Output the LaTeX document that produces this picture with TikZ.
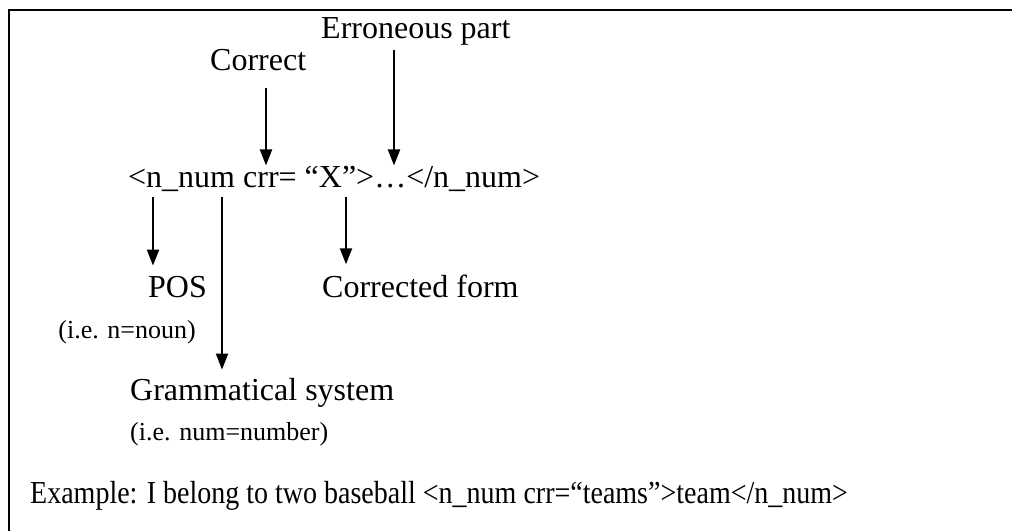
\documentclass[tikz,border=0pt]{standalone}
\usepackage{fontspec}
\setmainfont{Liberation Serif}
\usetikzlibrary{arrows.meta}

\begin{document}
\begin{tikzpicture}[
  x=1pt, y=-1pt,
  lbl/.style={anchor=base west, inner sep=0pt, font=\fontsize{32}{38}\selectfont},
  note/.style={anchor=base west, inner sep=0pt, font=\fontsize{26}{31}\selectfont},
  arr/.style={line width=2pt, -{Triangle[length=16pt,width=12pt]}},
]
\useasboundingbox (0,0) rectangle (1012,531);

\draw [line width=2.5pt] (9,531) -- (9,10) -- (1012,10);

\node [lbl] (err) at (321,38) {Erroneous part};
\node [lbl] (cor) at (210,70) {Correct};
\node [lbl] (tag) at (128,187) {<n\_num crr= “X”>…</n\_num>};

\node [lbl] (pos) at (148,297) {POS};
\node [note, anchor=base east] (posnote) at (196,338) {(i.e. n=noun)};
\node [lbl] (form) at (322,297) {Corrected form};
\node [lbl] (gram) at (130,400) {Grammatical system};
\node [note] (gramnote) at (130,440) {(i.e. num=number)};

\node [lbl] (ex) at (30,503) {\scalebox{0.875}[1]{Example: I belong to two baseball <n\_num crr=“teams”>team</n\_num>}};

\coordinate (errtail) at (394,50);
\coordinate (cortail) at (266,88);
\coordinate (postail) at (153,197);
\coordinate (gramtail) at (222,197);
\coordinate (formtail) at (346,197);

\draw [arr] (errtail) -- (errtail |- tag.north);
\draw [arr] (cortail) -- (cortail |- tag.north);
\draw [arr, shorten >=10pt] (postail) -- (postail |- pos.north);
\draw [arr, shorten >=8pt] (gramtail) -- (gramtail |- gram.north);
\draw [arr, shorten >=10pt] (formtail) -- (formtail |- form.north);

\end{tikzpicture}
\end{document}
